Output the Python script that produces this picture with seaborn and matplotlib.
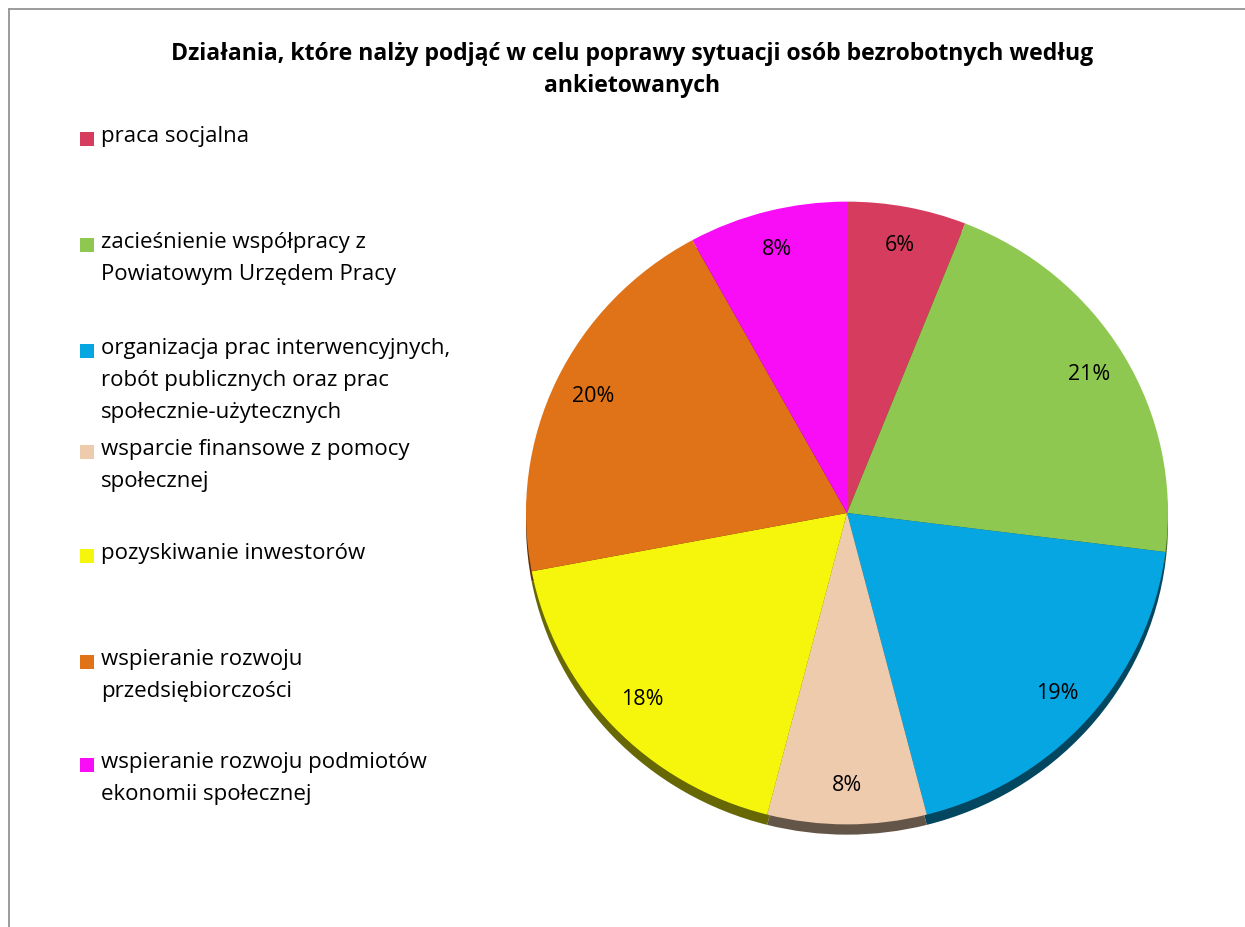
import numpy as np
import seaborn as sns
import matplotlib.pyplot as plt
from matplotlib.patches import Rectangle
from matplotlib.lines import Line2D
import matplotlib.colors as mcolors

# data
categories = [
    "praca socjalna",
    "zacieśnienie współpracy z\nPowiatowym Urzędem Pracy",
    "organizacja prac interwencyjnych,\nrobót publicznych oraz prac\nspołecznie-użytecznych",
    "wsparcie finansowe z pomocy\nspołecznej",
    "pozyskiwanie inwestorów",
    "wspieranie rozwoju\nprzedsiębiorczości",
    "wspieranie rozwoju podmiotów\nekonomii społecznej",
]
shares = [6, 21, 19, 8, 18, 20, 8]
colors = ["#D63C5E", "#8FC851", "#06A6E2", "#EFCBAD", "#F6F60C", "#E07318", "#F90CF6"]

title = "Działania, które nalży podjąć w celu poprawy sytuacji osób bezrobotnych według\nankietowanych"

sns.set_theme(style="white")
plt.rcParams["font.family"] = ["Open Sans", "DejaVu Sans"]
plt.rcParams["text.color"] = "black"

W, H = 1245, 927
fig = plt.figure(figsize=(W / 100, H / 100), dpi=100)

# chart frame (only top and left edges are visible)
fig.add_artist(Line2D([9 / W, 1.0], [1 - 9 / H, 1 - 9 / H], color="#8a8a8a", lw=1.2))
fig.add_artist(Line2D([9 / W, 9 / W], [0.0, 1 - 9 / H], color="#8a8a8a", lw=1.2))

fig.text(632 / W, 1 - 70 / H, title, ha="center", va="center", fontsize=16.6,
         fontweight="bold", linespacing=1.5)

# pie
cx, cy, r = 847, 513, 321
size = 700
ax = fig.add_axes([(cx - size / 2) / W, (H - cy - size / 2) / H, size / W, size / H])
lim = size / 2 / r
shadow = [tuple(np.array(mcolors.to_rgb(c)) * 0.42) for c in colors]
ax.pie(shares, colors=shadow, startangle=90, counterclock=False,
       center=(0, -0.033), wedgeprops=dict(linewidth=0))
ax.pie(shares, colors=colors, startangle=90, counterclock=False,
       autopct=lambda p: f"{p:.0f}%", pctdistance=0.875,
       wedgeprops=dict(linewidth=0),
       textprops=dict(fontsize=15.5, color="black"))
ax.set_xlim(-lim, lim)
ax.set_ylim(-lim, lim)
ax.set_aspect(0.97)
ax.axis("off")

# legend, placed like the original
legend_y = [139, 245, 351, 452, 556, 662, 765]
for lab, col, y in zip(categories, colors, legend_y):
    fig.add_artist(Rectangle((80 / W, 1 - (y + 7) / H), 14 / W, 14 / H,
                             transform=fig.transFigure, color=col, lw=0))
    fig.text(101 / W, 1 - (y - 13) / H, lab, ha="left", va="top",
             fontsize=16, linespacing=1.68)

fig.savefig("out.png", dpi=100)
